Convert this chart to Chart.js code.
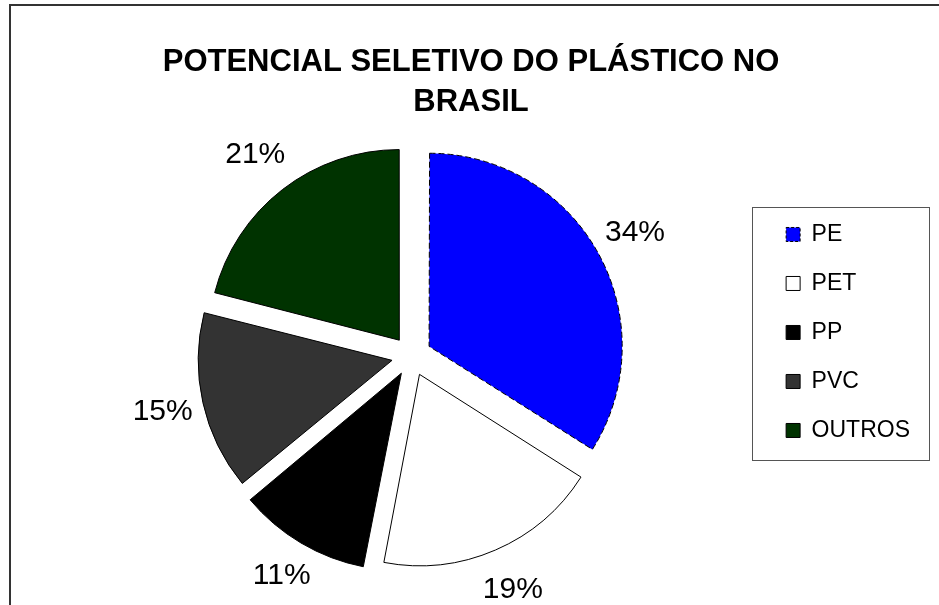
<!DOCTYPE html>
<html>
<head>
<meta charset="utf-8">
<script src="https://cdn.jsdelivr.net/npm/chart.js@4/dist/chart.umd.min.js"></script>
<style>
  html, body { margin: 0; padding: 0; background: #fff; overflow: hidden; }
  #frame { position: absolute; left: 9px; top: 4px; width: 1000px; height: 700px;
           border-left: 2px solid #333; border-top: 2px solid #333; }
  #plastico { position: absolute; left: 0; top: 0; }
</style>
</head>
<body>
<div id="frame"><canvas id="plastico" width="920" height="600"></canvas></div>
<script>
// Potencial seletivo do plastico no Brasil

const tiposPlastico = ['PE', 'PET', 'PP', 'PVC', 'OUTROS']
const percentuais = [34, 19, 11, 15, 21]
const coresPlastico = ['#0000FF', '#FFFFFF', '#000000', '#333333', '#003300']

const fonte = '"Liberation Sans", Arial, sans-serif'
const afastamento = 20   // quanto cada fatia sai do centro (px)

// titulo centrado na largura toda do grafico (como no Excel)
const tituloCentrado = {
  id: 'tituloCentrado',
  afterLayout(chart) {
    const t = chart.titleBlock
    if (!t) return
    t.left = 0
    t.right = chart.width
    t.width = chart.width
  }
}

// rotulos de % do lado de fora das fatias
const rotulosFora = {
  id: 'rotulosFora',
  afterDatasetsDraw(chart) {
    const ctx = chart.ctx
    const meta = chart.getDatasetMeta(0)
    ctx.save()
    ctx.font = '30px ' + fonte
    ctx.fillStyle = '#000'
    ctx.textAlign = 'center'
    ctx.textBaseline = 'middle'
    meta.data.forEach((arc, i) => {
      const { x, y, startAngle, endAngle, outerRadius } =
        arc.getProps(['x', 'y', 'startAngle', 'endAngle', 'outerRadius'], true)
      const meio = (startAngle + endAngle) / 2
      const r = afastamento + outerRadius + 45
      ctx.fillText(percentuais[i] + '%', x + Math.cos(meio) * r, y + Math.sin(meio) * r)
    })
    ctx.restore()
  }
}

// moldura em volta da legenda
const caixaLegenda = {
  id: 'caixaLegenda',
  afterDraw(chart) {
    const boxes = chart.legend.legendHitBoxes
    if (!boxes || !boxes.length) return
    const primeiro = boxes[0]
    const ultimo = boxes[boxes.length - 1]
    const larg = Math.max(...boxes.map(b => b.width))
    const topo = primeiro.top + primeiro.height / 2 - 27
    const base = ultimo.top + ultimo.height / 2 + 30
    const ctx = chart.ctx
    ctx.save()
    ctx.strokeStyle = '#555'
    ctx.lineWidth = 1
    ctx.strokeRect(Math.round(primeiro.left - 34) + 0.5, Math.round(topo) + 0.5,
      Math.round(larg + 53), Math.round(base - topo))
    ctx.restore()
  }
}

const legendaPadrao = (Chart.overrides.pie.plugins && Chart.overrides.pie.plugins.legend
  ? Chart.overrides.pie : Chart.overrides.doughnut).plugins.legend.labels.generateLabels

new Chart(document.getElementById('plastico'), {
  type: 'pie',
  data: {
    labels: tiposPlastico,
    datasets: [{
      data: percentuais,
      backgroundColor: coresPlastico,
      borderColor: '#000',
      borderWidth: 1,
      borderDash: c => c.dataIndex === 0 ? [6, 3] : [],
      offset: afastamento * 4,
      radius: 190,
      clip: false
    }]
  },
  options: {
    responsive: false,
    animation: false,
    layout: { padding: { left: 52, right: 11, top: 0, bottom: 91 } },
    plugins: {
      title: {
        display: true,
        text: ['POTENCIAL SELETIVO DO PLÁSTICO NO', 'BRASIL'],
        color: '#000',
        font: { family: fonte, size: 31, weight: 'bold', lineHeight: 1.29 },
        padding: { top: 36, bottom: 75 }
      },
      legend: {
        position: 'right',
        align: 'start',
        fullSize: false,
        labels: {
          color: '#000',
          font: { family: fonte, size: 23 },
          boxWidth: 14,
          boxHeight: 14,
          padding: 26,
          generateLabels(chart) {
            const items = legendaPadrao(chart)
            items[0].lineDash = [3, 2]
            return items
          }
        }
      },
      tooltip: { enabled: false }
    }
  },
  plugins: [tituloCentrado, rotulosFora, caixaLegenda]
})
</script>
</body>
</html>
